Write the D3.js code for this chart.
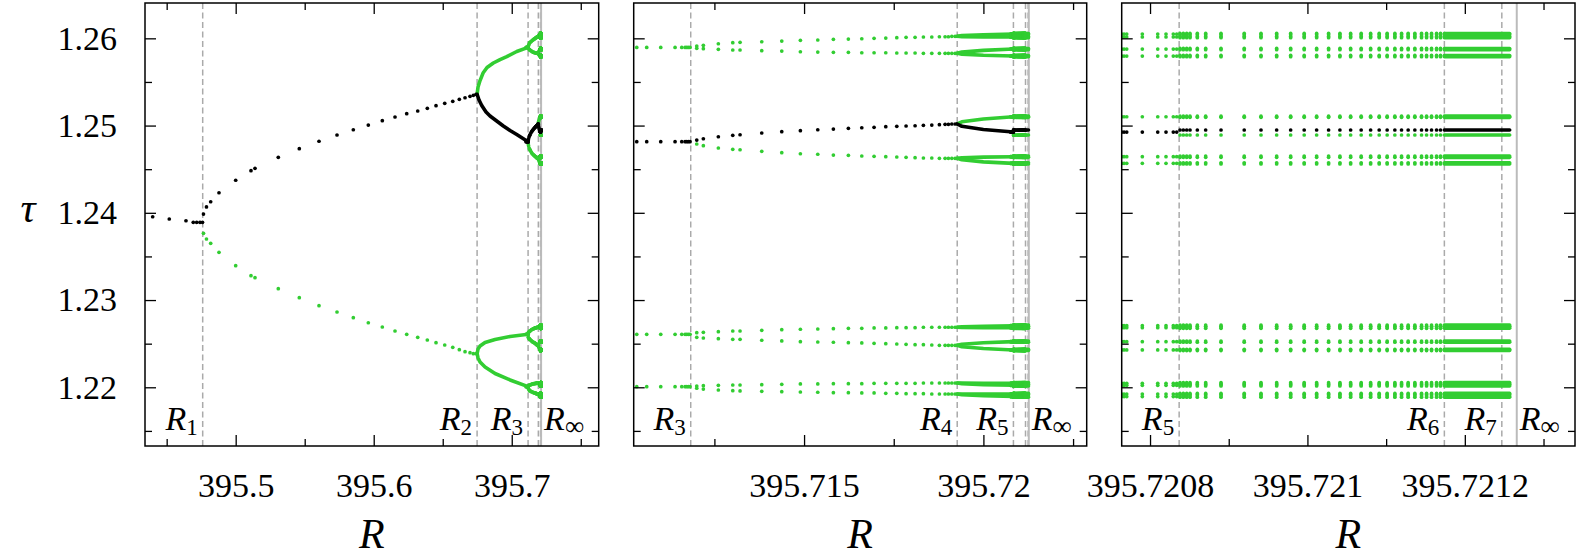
<!DOCTYPE html>
<html>
<head>
<meta charset="utf-8">
<script src="https://d3js.org/d3.v7.min.js"></script>
<style>
  body { margin: 0px; background: #fff; }
  svg text { font-family: "Liberation Serif", "DejaVu Serif", serif; fill: #000; }
  .axis path { display: none; }
  .axis line { stroke: #000; stroke-width: 1.3px; }
</style>
</head>
<body>
<svg id="chart" width="1578" height="557"></svg>
<script>
// ---- bifurcation points ----
var rBif = [395.4761, 395.6749, 395.71184, 395.71927, 395.720837, 395.721174, 395.721247];
var rInf = 395.721266;
var bifNames = ["1", "2", "3", "4", "5", "6", "7"];

// ---- axes ----
var tauDomain = [1.21327, 1.26405];
var tauMajor = [1.22, 1.23, 1.24, 1.25, 1.26];
var tauMinor = [1.215, 1.225, 1.235, 1.245, 1.255];
var rDomains = [[395.4343, 395.763], [395.71025, 395.72288], [395.720764, 395.72134]];
var rMajor = [[395.5, 395.6, 395.7], [395.715, 395.72], [395.7208, 395.721, 395.7212]];
var rMajorText = [["395.5", "395.6", "395.7"], ["395.715", "395.72"], ["395.7208", "395.721", "395.7212"]];
var rMinor = [[395.45, 395.55, 395.65, 395.75], [395.7125, 395.7175, 395.7225], [395.7209, 395.7211, 395.7213]];
var panelLabels = [[0, 1, 2], [2, 3, 4], [4, 5, 6]];

// ---- panel 1 samples (period 1 -> 2) ----
var p1RPre = [395.43986, 395.45188, 395.46399, 395.46928, 395.47174, 395.47413, 395.47594];
var p1TauPre = [1.23955, 1.23929, 1.23909, 1.23891, 1.23891, 1.23891, 1.23891];
var p1R = [395.47667, 395.47884, 395.48188, 395.4879, 395.5, 395.51109, 395.51399, 395.53087, 395.54609,
  395.56036, 395.57341, 395.58522, 395.59609, 395.60623, 395.61543, 395.62391, 395.63188, 395.63884,
  395.64514, 395.65145, 395.65725, 395.66203, 395.66616, 395.66978, 395.67217, 395.67413];
var p1Black = [1.23986, 1.24067, 1.24127, 1.2423, 1.24373, 1.24483, 1.2451, 1.24636, 1.24735, 1.2482,
  1.24892, 1.24952, 1.25006, 1.25056, 1.25098, 1.25136, 1.25167, 1.25198, 1.25228, 1.25255, 1.25278,
  1.25301, 1.25319, 1.25335, 1.25347, 1.25358];
var p1Green = [1.23765, 1.237, 1.2365, 1.23547, 1.23394, 1.23279, 1.23256, 1.2313, 1.23027, 1.22935,
  1.22863, 1.22798, 1.2274, 1.22691, 1.22645, 1.22607, 1.22573, 1.22542, 1.22511, 1.22485, 1.22458,
  1.22431, 1.22408, 1.22397, 1.22385, 1.22387];
// dense part R2 -> R3
var p1BandGreenUp = [[395.6749, 1.25358], [395.67558, 1.25442], [395.67703, 1.25516], [395.6792, 1.25602],
  [395.6821, 1.25665], [395.68667, 1.25717], [395.69152, 1.25757], [395.69638, 1.25791], [395.70362, 1.25849],
  [395.71184, 1.25896]];
var p1BandBlack = [[395.6749, 1.25358], [395.6763, 1.25293], [395.67826, 1.2523], [395.68138, 1.25155],
  [395.68428, 1.25109], [395.68862, 1.25058], [395.69391, 1.24995], [395.69877, 1.24943], [395.70362, 1.24897],
  [395.71184, 1.24815]];
var p1BandLowUp = [[395.6749, 1.22387], [395.67558, 1.22439], [395.67703, 1.22473], [395.68065, 1.22514],
  [395.6879, 1.22548], [395.69877, 1.22582], [395.71184, 1.22607]];
var p1BandLowDown = [[395.6749, 1.22387], [395.67558, 1.22336], [395.67703, 1.2229], [395.68065, 1.22233],
  [395.6879, 1.22158], [395.69877, 1.22084], [395.71184, 1.22007]];

// ---- panel 2 samples (period 4 -> 8) ----
var p2RPre = [395.710335, 395.710613, 395.711004, 395.711403, 395.71159, 395.711682, 395.711729, 395.711774, 395.711821];
var p2PreLevels = [1.25896, 1.24815, 1.22607, 1.22007];
var p2PreBlack = [false, true, false, false];
var p2R = [395.712008, 395.712192, 395.71261, 395.713012, 395.713215, 395.71382, 395.714378, 395.714897,
  395.715382, 395.715817, 395.716235, 395.716609, 395.716952, 395.717278, 395.717585, 395.717844,
  395.718095, 395.718327, 395.718561, 395.718773, 395.718932, 395.719024, 395.719119, 395.719211];
var p2T1 = [1.25912, 1.2592, 1.25938, 1.2595, 1.25954, 1.25961, 1.25969, 1.25977, 1.25981, 1.25989, 1.25992,
  1.25995, 1.26, 1.26003, 1.26007, 1.26011, 1.26011, 1.26015, 1.26015, 1.26018, 1.26018, 1.26018, 1.26023, 1.26023];
var p2T2 = [1.25885, 1.25881, 1.25874, 1.25866, 1.25866, 1.25858, 1.25854, 1.25846, 1.25843, 1.2584, 1.2584,
  1.25835, 1.25835, 1.25835, 1.25832, 1.25832, 1.25832, 1.25828, 1.25828, 1.25828, 1.25828, 1.25828, 1.25828, 1.25828];
var p2Bk = [1.24834, 1.24849, 1.24872, 1.24888, 1.24895, 1.24915, 1.2493, 1.24941, 1.24952, 1.2496, 1.24968,
  1.24975, 1.2498, 1.24987, 1.24991, 1.24995, 1.24998, 1.25003, 1.25006, 1.2501, 1.25014, 1.25014, 1.25018, 1.25018];
var p2M = [1.24789, 1.24769, 1.24743, 1.24728, 1.24723, 1.24705, 1.24689, 1.24677, 1.24671, 1.24662, 1.24659,
  1.24651, 1.24648, 1.24643, 1.2464, 1.24636, 1.24632, 1.24628, 1.24628, 1.24625, 1.24625, 1.24625, 1.24625, 1.24625];
var p2L1 = [1.22626, 1.2263, 1.22637, 1.22645, 1.22645, 1.22653, 1.2266, 1.22665, 1.22668, 1.22672, 1.22676,
  1.22676, 1.2268, 1.2268, 1.22683, 1.22683, 1.22683, 1.22688, 1.22688, 1.22688, 1.22688, 1.22688, 1.22688, 1.22688];
var p2L2 = [1.22573, 1.22565, 1.22557, 1.2255, 1.2255, 1.22539, 1.22531, 1.22523, 1.22519, 1.22516, 1.22511,
  1.22508, 1.22504, 1.225, 1.22496, 1.22493, 1.22488, 1.22488, 1.22485, 1.22481, 1.22481, 1.22481, 1.22481, 1.22481];
var p2D1 = [1.22015, 1.22018, 1.22023, 1.22026, 1.22026, 1.2203, 1.22034, 1.22038, 1.22038, 1.22041, 1.22041,
  1.22041, 1.22046, 1.22046, 1.22046, 1.22046, 1.22046, 1.22049, 1.22049, 1.22049, 1.22049, 1.22049, 1.22049, 1.22049];
var p2D2 = [1.21989, 1.2198, 1.21969, 1.21961, 1.21958, 1.21954, 1.2195, 1.21946, 1.21943, 1.21938, 1.21938,
  1.21935, 1.21935, 1.21931, 1.21931, 1.21927, 1.21927, 1.21927, 1.21923, 1.21923, 1.21923, 1.21923, 1.21923, 1.21923];
// dense part R4 -> R5 (16 branches)
var p2BandR = [395.71927, 395.7194, 395.7200, 395.720837];
var p2BandTaus = [
  [1.26023, 1.26031, 1.26041, 1.26049], [1.26023, 1.2602, 1.26017, 1.26015],
  [1.25828, 1.25842, 1.25862, 1.25877], [1.25828, 1.25819, 1.25806, 1.25797],
  [1.25018, 1.25043, 1.25076, 1.25101], [1.25018, 1.24992, 1.24955, 1.24926],
  [1.24625, 1.2463, 1.24638, 1.24643], [1.24625, 1.24608, 1.24584, 1.24567],
  [1.22688, 1.22693, 1.227, 1.22706], [1.22688, 1.22686, 1.22684, 1.22683],
  [1.22481, 1.22494, 1.2251, 1.22523], [1.22481, 1.22465, 1.22444, 1.22428],
  [1.22049, 1.22048, 1.22047, 1.22046], [1.22049, 1.22041, 1.22031, 1.22023],
  [1.21923, 1.21923, 1.21923, 1.21923], [1.21923, 1.21914, 1.21903, 1.21894]];
var p2BandBlack = 5;

// ---- panel 3 samples (period 16 -> 32) ----
var p3RPre = [395.7207641, 395.720767, 395.7207704, 395.7207902, 395.7208098, 395.7208203, 395.7208296, 395.7208339];
var p3PreLevels = [1.26049, 1.26015, 1.25877, 1.25797, 1.25101, 1.24926, 1.24643, 1.24567,
  1.22706, 1.22683, 1.22523, 1.22428, 1.22046, 1.22023, 1.21923, 1.21894];
var p3PreBlack = 5;
var p3R = [395.7208381, 395.7208423, 395.7208466, 395.7208508, 395.7208601, 395.7208707, 395.7208902,
  395.7209197, 395.720941, 395.7209609, 395.7209787, 395.7209959, 395.7210117, 395.7210269, 395.7210413,
  395.7210549, 395.7210683, 395.7210803, 395.7210912, 395.7211013, 395.7211111, 395.7211196, 395.721128,
  395.7211365, 395.721145, 395.7211514, 395.7211577, 395.7211641, 395.7211691];
var p3PostLevels = [1.26056, 1.26042, 1.26022, 1.26008, 1.25884, 1.2587, 1.25804, 1.2579,
  1.25108, 1.25094, 1.24949, 1.24892, 1.2465, 1.24636, 1.24574, 1.2456,
  1.22713, 1.22699, 1.2269, 1.22676, 1.2253, 1.22516, 1.22435, 1.22421,
  1.22053, 1.22039, 1.2203, 1.22016, 1.2193, 1.21916, 1.21901, 1.21887];
var p3PostBlack = 10;
// dense part R6 -> end of computation
var p3BandR = [395.721174, 395.721257];

// ---- layout ----
var plotTop = 3, plotBottom = 446;
var panelX = [[145, 598.7], [633.7, 1086.7], [1121.7, 1575]];
var green = "#32cd32", black = "#000";
var dotR = 1.85, bandW = 3.6;

// ---- collect marks per dataset (drawn in its own panel and the coarser ones) ----
var datasets = [];
(function() {
  var a = {panel: 0, dots: [], bands: []};
  p1RPre.forEach(function(r, i) { a.dots.push({r: r, t: p1TauPre[i], k: true}); });
  p1R.forEach(function(r, i) {
    a.dots.push({r: r, t: p1Black[i], k: true});
    a.dots.push({r: r, t: p1Green[i], k: false});
  });
  a.bands.push({pts: p1BandGreenUp, k: false}, {pts: p1BandLowUp, k: false},
               {pts: p1BandLowDown, k: false}, {pts: p1BandBlack, k: true});
  datasets.push(a);

  var b = {panel: 1, dots: [], bands: []};
  p2RPre.forEach(function(r) {
    p2PreLevels.forEach(function(t, j) { b.dots.push({r: r, t: t, k: p2PreBlack[j]}); });
  });
  var br = [p2T1, p2T2, p2Bk, p2M, p2L1, p2L2, p2D1, p2D2];
  p2R.forEach(function(r, i) {
    br.forEach(function(arr) { b.dots.push({r: r, t: arr[i], k: arr === p2Bk}); });
  });
  p2BandTaus.forEach(function(ts, j) {
    b.bands.push({pts: p2BandR.map(function(r, i) { return [r, ts[i]]; }), k: j === p2BandBlack});
  });
  datasets.push(b);

  var c = {panel: 2, dots: [], bands: []};
  p3RPre.forEach(function(r) {
    p3PreLevels.forEach(function(t, j) { c.dots.push({r: r, t: t, k: j === p3PreBlack}); });
  });
  p3R.forEach(function(r) {
    p3PostLevels.forEach(function(t, j) { c.dots.push({r: r, t: t, k: j === p3PostBlack}); });
  });
  p3PostLevels.forEach(function(t, j) {
    c.bands.push({pts: p3BandR.map(function(r) { return [r, t]; }), k: j === p3PostBlack});
  });
  datasets.push(c);
})();

var svg = d3.select("#chart");
var y = d3.scaleLinear().domain(tauDomain).range([plotBottom, plotTop]);

panelX.forEach(function(px, i) {
  var x = d3.scaleLinear().domain(rDomains[i]).range(px);
  var g = svg.append("g");

  svg.append("clipPath").attr("id", "clip" + i)
    .append("rect").attr("x", px[0]).attr("y", plotTop)
    .attr("width", px[1] - px[0]).attr("height", plotBottom - plotTop);
  var inner = g.append("g").attr("clip-path", "url(#clip" + i + ")");

  // bifurcation markers
  rBif.forEach(function(r) {
    if (r < rDomains[i][0] || r > rDomains[i][1]) return;
    inner.append("line")
      .attr("x1", x(r)).attr("x2", x(r)).attr("y1", plotTop).attr("y2", plotBottom)
      .attr("stroke", "#aaa").attr("stroke-width", 1.5).attr("stroke-dasharray", "6,3.5");
  });
  inner.append("line")
    .attr("x1", x(rInf)).attr("x2", x(rInf)).attr("y1", plotTop).attr("y2", plotBottom)
    .attr("stroke", "#bbb").attr("stroke-width", 2);

  var line = d3.line().x(function(d) { return x(d[0]); }).y(function(d) { return y(d[1]); });
  [false, true].forEach(function(isBlack) {
    datasets.forEach(function(ds) {
      if (ds.panel < i) return;
      inner.append("g").selectAll("path")
        .data(ds.bands.filter(function(b) { return b.k === isBlack; }))
        .enter().append("path")
          .attr("d", function(b) { return line(b.pts); })
          .attr("fill", "none")
          .attr("stroke", isBlack ? black : green)
          .attr("stroke-width", bandW)
          .attr("stroke-linecap", "round").attr("stroke-linejoin", "round");
      inner.append("g").selectAll("circle")
        .data(ds.dots.filter(function(d) { return d.k === isBlack; }))
        .enter().append("circle")
          .attr("cx", function(d) { return x(d.r); })
          .attr("cy", function(d) { return y(d.t); })
          .attr("r", dotR)
          .attr("fill", isBlack ? black : green);
    });
  });

  // axes: ticks inward on all four sides
  var fmt = function(d) { return rMajorText[i][rMajor[i].indexOf(d)]; };
  g.append("g").attr("class", "axis").attr("transform", "translate(0," + plotBottom + ")")
    .call(d3.axisBottom(x).tickValues(rMajor[i]).tickSize(-11).tickPadding(27).tickFormat(fmt))
    .selectAll("text").attr("font-size", 34);
  g.append("g").attr("class", "axis").attr("transform", "translate(0," + plotBottom + ")")
    .call(d3.axisBottom(x).tickValues(rMinor[i]).tickSize(-7).tickFormat(""));
  g.append("g").attr("class", "axis").attr("transform", "translate(0," + plotTop + ")")
    .call(d3.axisTop(x).tickValues(rMajor[i]).tickSize(-11).tickFormat(""));
  g.append("g").attr("class", "axis").attr("transform", "translate(0," + plotTop + ")")
    .call(d3.axisTop(x).tickValues(rMinor[i]).tickSize(-7).tickFormat(""));

  var left = d3.axisLeft(y).tickValues(tauMajor).tickSize(-11).tickPadding(28);
  if (i === 0) left.tickFormat(d3.format(".2f")); else left.tickFormat("");
  g.append("g").attr("class", "axis").attr("transform", "translate(" + px[0] + ",0)")
    .call(left).selectAll("text").attr("font-size", 34);
  g.append("g").attr("class", "axis").attr("transform", "translate(" + px[0] + ",0)")
    .call(d3.axisLeft(y).tickValues(tauMinor).tickSize(-7).tickFormat(""));
  g.append("g").attr("class", "axis").attr("transform", "translate(" + px[1] + ",0)")
    .call(d3.axisRight(y).tickValues(tauMajor).tickSize(-11).tickFormat(""));
  g.append("g").attr("class", "axis").attr("transform", "translate(" + px[1] + ",0)")
    .call(d3.axisRight(y).tickValues(tauMinor).tickSize(-7).tickFormat(""));

  g.append("rect")
    .attr("x", px[0]).attr("y", plotTop)
    .attr("width", px[1] - px[0]).attr("height", plotBottom - plotTop)
    .attr("fill", "none").attr("stroke", "#000").attr("stroke-width", 1.5);

  // R_k labels
  panelLabels[i].forEach(function(k) {
    var t = g.append("text").attr("x", x(rBif[k]) - 5).attr("y", 430).attr("text-anchor", "end");
    t.append("tspan").attr("font-style", "italic").attr("font-size", 34).text("R");
    t.append("tspan").attr("font-size", 23).attr("dy", 5).text(bifNames[k]);
  });
  var tinf = g.append("text").attr("x", x(rInf) + 3).attr("y", 430).attr("text-anchor", "start");
  tinf.append("tspan").attr("font-style", "italic").attr("font-size", 34).text("R");
  tinf.append("tspan").attr("font-size", 27).attr("dy", 5).text("\u221e");

  // axis title
  g.append("text")
    .attr("x", (px[0] + px[1]) / 2).attr("y", 548)
    .attr("text-anchor", "middle").attr("font-style", "italic").attr("font-size", 42)
    .text("R");
});

svg.append("text")
  .attr("x", 28).attr("y", 222)
  .attr("text-anchor", "middle").attr("font-style", "italic").attr("font-size", 42)
  .text("\u03c4");
</script>
</body>
</html>
